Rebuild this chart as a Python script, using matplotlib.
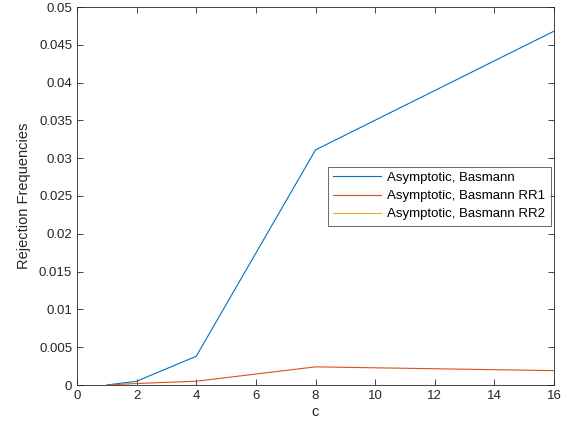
import matplotlib
matplotlib.use("Agg")
import matplotlib.pyplot as plt

c = [1, 2, 4, 8, 16]
basmann = [0.0, 0.0005, 0.0038, 0.0311, 0.0468]
basmann_rr1 = [0.0, 0.0002, 0.0005, 0.0024, 0.0019]
basmann_rr2 = [0.0, 0.0, 0.0, 0.0, 0.0]
labels = ["Asymptotic, Basmann", "Asymptotic, Basmann RR1", "Asymptotic, Basmann RR2"]
colors = ["#0072BD", "#D95319", "#EDB120"]

plt.rcParams['font.family'] = ['Liberation Sans', 'DejaVu Sans']
ax_col = "#262626"

fig = plt.figure(figsize=(5.61, 4.30), dpi=100)
ax = fig.add_axes([77/561, 45/430, 477/561, 378/430])
for y, lab, col in zip([basmann, basmann_rr1, basmann_rr2], labels, colors):
    ax.plot(c, y, color=col, lw=0.8, label=lab)

ax.set_xlim(0, 16)
ax.set_ylim(0, 0.05)
ax.set_xticks(range(0, 17, 2))
ax.set_yticks([i * 0.005 for i in range(11)])
ax.set_yticklabels(["0", "0.005", "0.01", "0.015", "0.02", "0.025", "0.03", "0.035", "0.04", "0.045", "0.05"])
ax.tick_params(direction="in", top=True, right=True, length=4, width=0.6, colors=ax_col, labelsize=9.5)
for s in ax.spines.values():
    s.set_color(ax_col)
    s.set_linewidth(0.6)
ax.set_xlabel("c", fontsize=10.5, color=ax_col, labelpad=2)
ax.set_ylabel("Rejection Frequencies", fontsize=10.5, color=ax_col, labelpad=6)

leg = ax.legend(loc="upper left", bbox_to_anchor=(0.526, 0.578), fontsize=9.5, frameon=True,
                fancybox=False, edgecolor=ax_col, borderpad=0.4, labelspacing=0.45,
                handlelength=3.6, handletextpad=0.5, borderaxespad=0)
leg.get_frame().set_linewidth(0.6)

fig.savefig("out.png", dpi=100)
